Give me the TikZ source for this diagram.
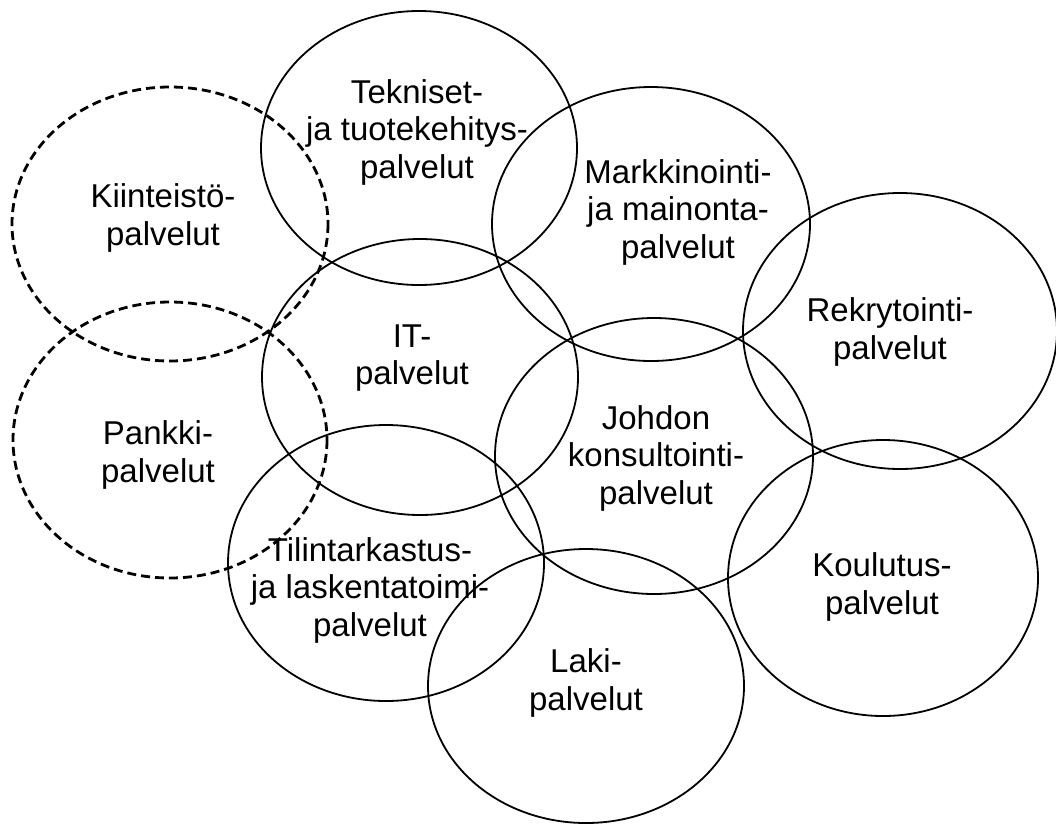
\documentclass[tikz,border=0pt]{standalone}
\usepackage{fontspec}
\setmainfont{Liberation Sans}
\begin{document}
\begin{tikzpicture}[x=1pt,y=-1pt,
  ring/.style={draw=black,line width=1.8pt},
  dashring/.style={draw=black,line width=2.8pt,dash pattern=on 9pt off 5pt},
  lbl/.style={align=center,inner sep=0pt,font=\fontsize{33}{37.5}\selectfont}]
\useasboundingbox[fill=white] (0,0) rectangle (1056,825);
% circles
\path[ring] (419,148) ellipse [x radius=158,y radius=137];
\path[dashring] (170,224) ellipse [x radius=158,y radius=137];
\path[ring] (651,224) ellipse [x radius=159,y radius=137];
\path[ring] (900,331) ellipse [x radius=157,y radius=138];
\path[ring] (420,377) ellipse [x radius=158,y radius=138];
\path[dashring] (170,440) ellipse [x radius=157,y radius=138];
\path[ring] (654,456) ellipse [x radius=159,y radius=138];
\path[ring] (386,563) ellipse [x radius=158,y radius=138];
\path[ring] (883,578) ellipse [x radius=155,y radius=138];
\path[ring] (586,686) ellipse [x radius=158,y radius=137];
% labels
\node[lbl] (tek) at (417,132) {Tekniset-\\ja tuotekehitys-\\palvelut};
\node[lbl] (kii) at (163,218) {Kiinteistö-\\palvelut};
\node[lbl] (mar) at (678,212) {Markkinointi-\\ja mainonta-\\palvelut};
\node[lbl] (rek) at (890,332) {Rekrytointi-\\palvelut};
\node[lbl] (it) at (412,358) {IT-\\palvelut};
\node[lbl] (pan) at (158,455) {Pankki-\\palvelut};
\node[lbl] (joh) at (656,458) {Johdon\\konsultointi-\\palvelut};
\node[lbl] (til) at (370,590) {Tilintarkastus-\\ja laskentatoimi-\\palvelut};
\node[lbl] (kou) at (882,587) {Koulutus-\\palvelut};
\node[lbl] (lak) at (586,683) {Laki-\\palvelut};
\end{tikzpicture}
\end{document}
